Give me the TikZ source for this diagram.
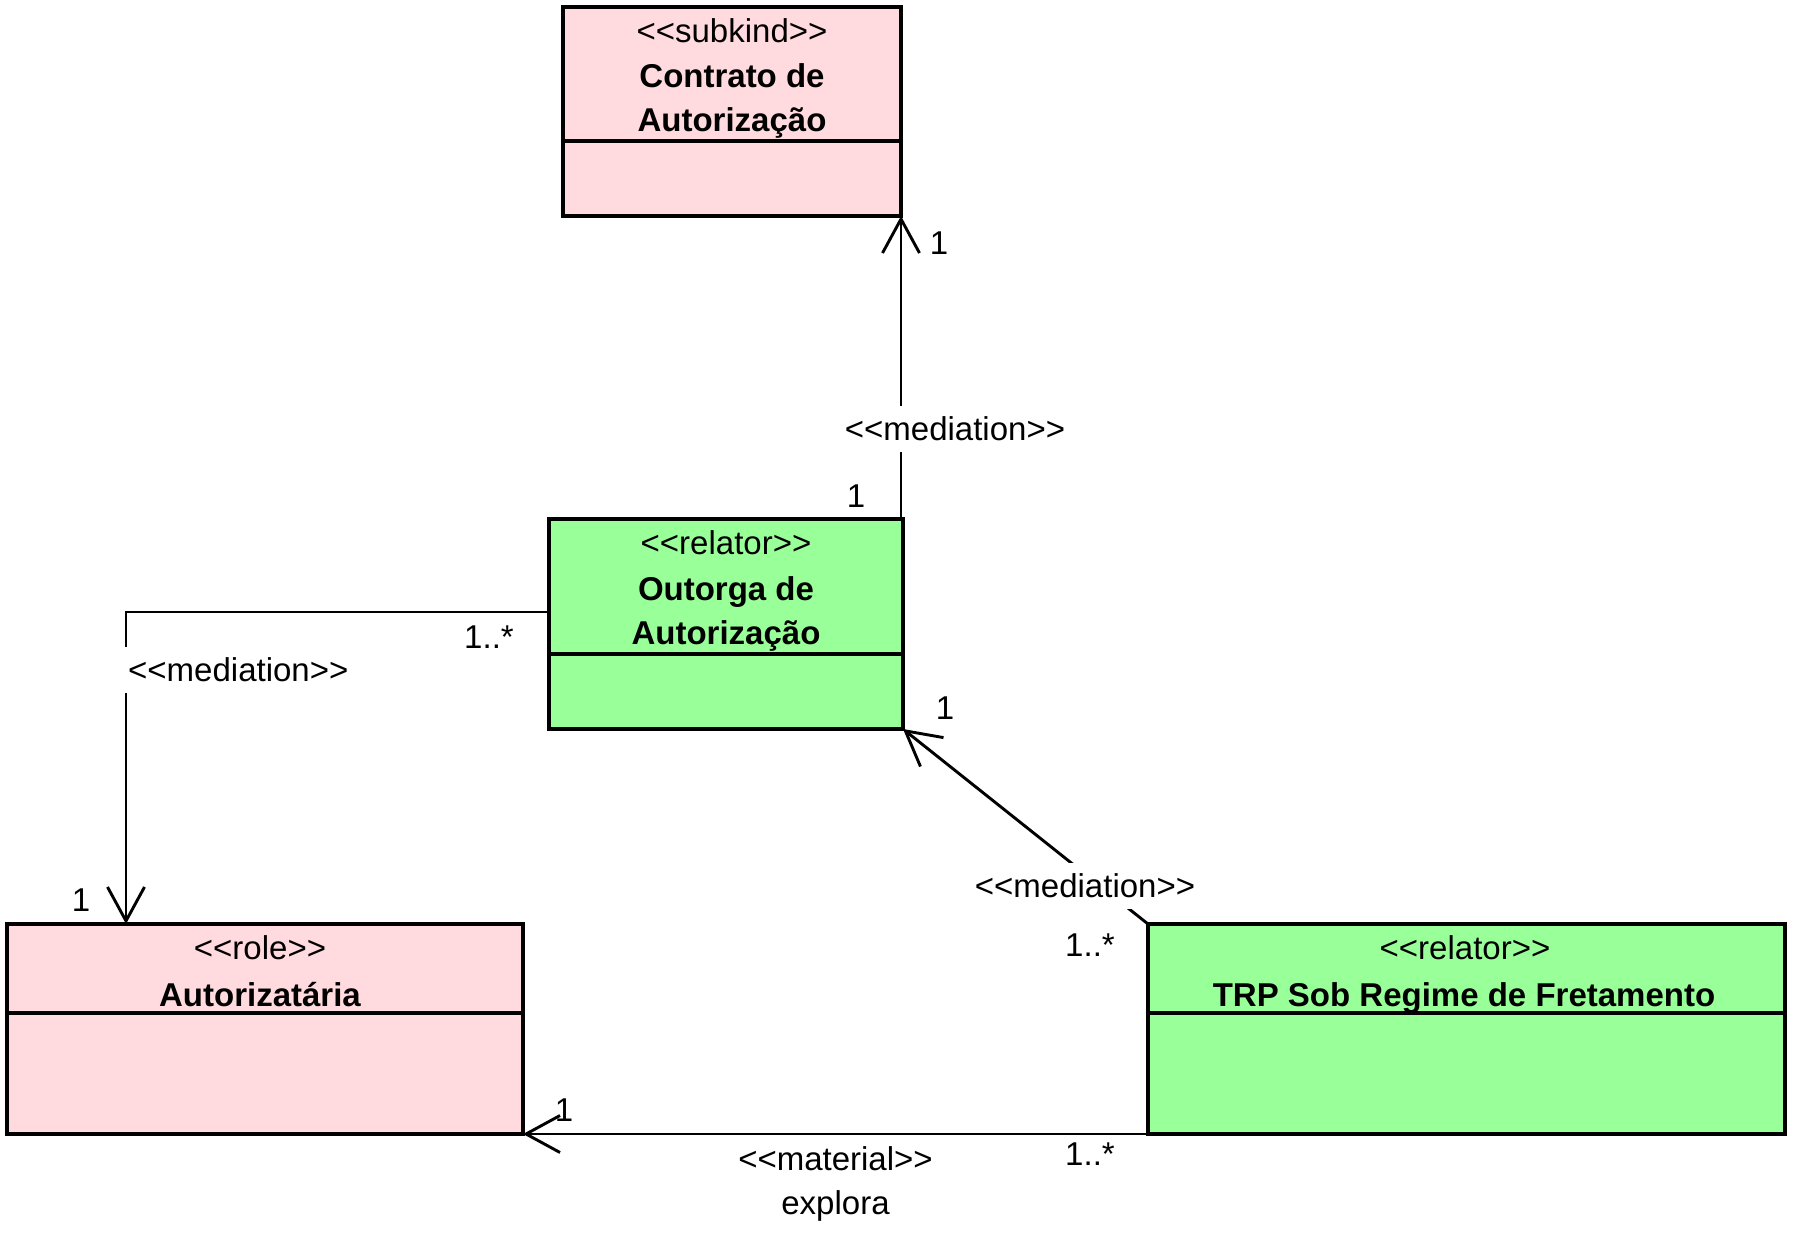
\documentclass[tikz,border=0pt]{standalone}
\usepackage{fontspec}
\setmainfont{Liberation Sans}[Ligatures=TeXOff]
\usetikzlibrary{arrows.meta}
\definecolor{pinkc}{RGB}{255,218,222}
\definecolor{greenc}{RGB}{153,255,153}
\begin{document}
\begin{tikzpicture}[x=1pt,y=-1pt,
 cls/.style={draw, line width=3.2pt, inner sep=0pt, outer sep=0pt},
 divider/.style={line width=3.2pt},
 stereo/.style={font=\fontsize{33}{40}\selectfont, anchor=base, inner sep=0pt},
 cname/.style={font=\fontsize{33}{44}\selectfont\bfseries, anchor=base, inner sep=0pt},
 mult/.style={font=\fontsize{33}{40}\selectfont, anchor=base, inner sep=0pt},
 lbl/.style={font=\fontsize{33}{44}\selectfont, fill=white, inner xsep=6pt, inner ysep=11pt},
 assoc/.style={line width=2.9pt, line join=miter, -{Straight Barb[length=34pt,width=37pt]}},
]
\fill[white] (0,0) rectangle (1797,1236);
\useasboundingbox (0,0) rectangle (1797,1236);

% classes
\node[cls, fill=pinkc, minimum width=338pt, minimum height=209pt] (contrato) at (732,111.5) {};
\draw[divider] (contrato.west |- 0,141) -- (contrato.east |- 0,141);
\node[stereo] (contratoS) at (732,43) {<<subkind>>};
\node[cname] (contratoN1) at (732,88) {Contrato de};
\node[cname] (contratoN2) at (732,132) {Autorização};

\node[cls, fill=greenc, minimum width=354pt, minimum height=210pt] (outorga) at (726,624) {};
\draw[divider] (outorga.west |- 0,654) -- (outorga.east |- 0,654);
\node[stereo] (outorgaS) at (726,554) {<<relator>>};
\node[cname] (outorgaN1) at (726,600) {Outorga de};
\node[cname] (outorgaN2) at (726,644) {Autorização};

\node[cls, fill=pinkc, minimum width=516pt, minimum height=210pt] (autoriz) at (265,1029) {};
\draw[divider] (autoriz.west |- 0,1013) -- (autoriz.east |- 0,1013);
\node[stereo] (autorizS) at (260,959) {<<role>>};
\node[cname] (autorizN) at (260,1006) {Autorizatária};

\node[cls, fill=greenc, minimum width=637pt, minimum height=210pt] (trp) at (1466.5,1029) {};
\draw[divider] (trp.west |- 0,1013) -- (trp.east |- 0,1013);
\node[stereo] (trpS) at (1465,959) {<<relator>>};
\node[cname] (trpN) at (1464,1006) {TRP Sob Regime de Fretamento};

% connectors
\draw[assoc] (outorga.north -| contrato.south east) -- (contrato.south east);
\node[lbl] (med1) at (955,429) {<<mediation>>};
\node[mult] (m1a) at (939,254) {1};
\node[mult] (m1b) at (856,507) {1};

\coordinate (lc) at (126,612);
\draw[assoc] (outorga.west |- lc) -- (lc) -- (lc |- autoriz.north);
\node[lbl, anchor=west] (med2) at (122,670) {<<mediation>>};
\node[mult] (m2a) at (489,648) {1..*};
\node[mult] (m2b) at (81,911) {1};

\draw[assoc] (trp.north west) -- (outorga.south east);
\node[lbl] (med3) at (1085,886) {<<mediation>>};
\node[mult] (m3a) at (945,719) {1};
\node[mult] (m3b) at (1090,956) {1..*};

\draw[assoc] (trp.south west) -- (autoriz.south east);
\node[font=\fontsize{33}{44}\selectfont, fill=white, align=center, anchor=north,
      minimum width=255pt, inner xsep=0pt, inner ysep=12pt] (mat) at (835.5,1134.3) {<<material>>\\explora};
\node[mult] (m4a) at (564,1121) {1};
\node[mult] (m4b) at (1090,1165) {1..*};
\end{tikzpicture}
\end{document}
